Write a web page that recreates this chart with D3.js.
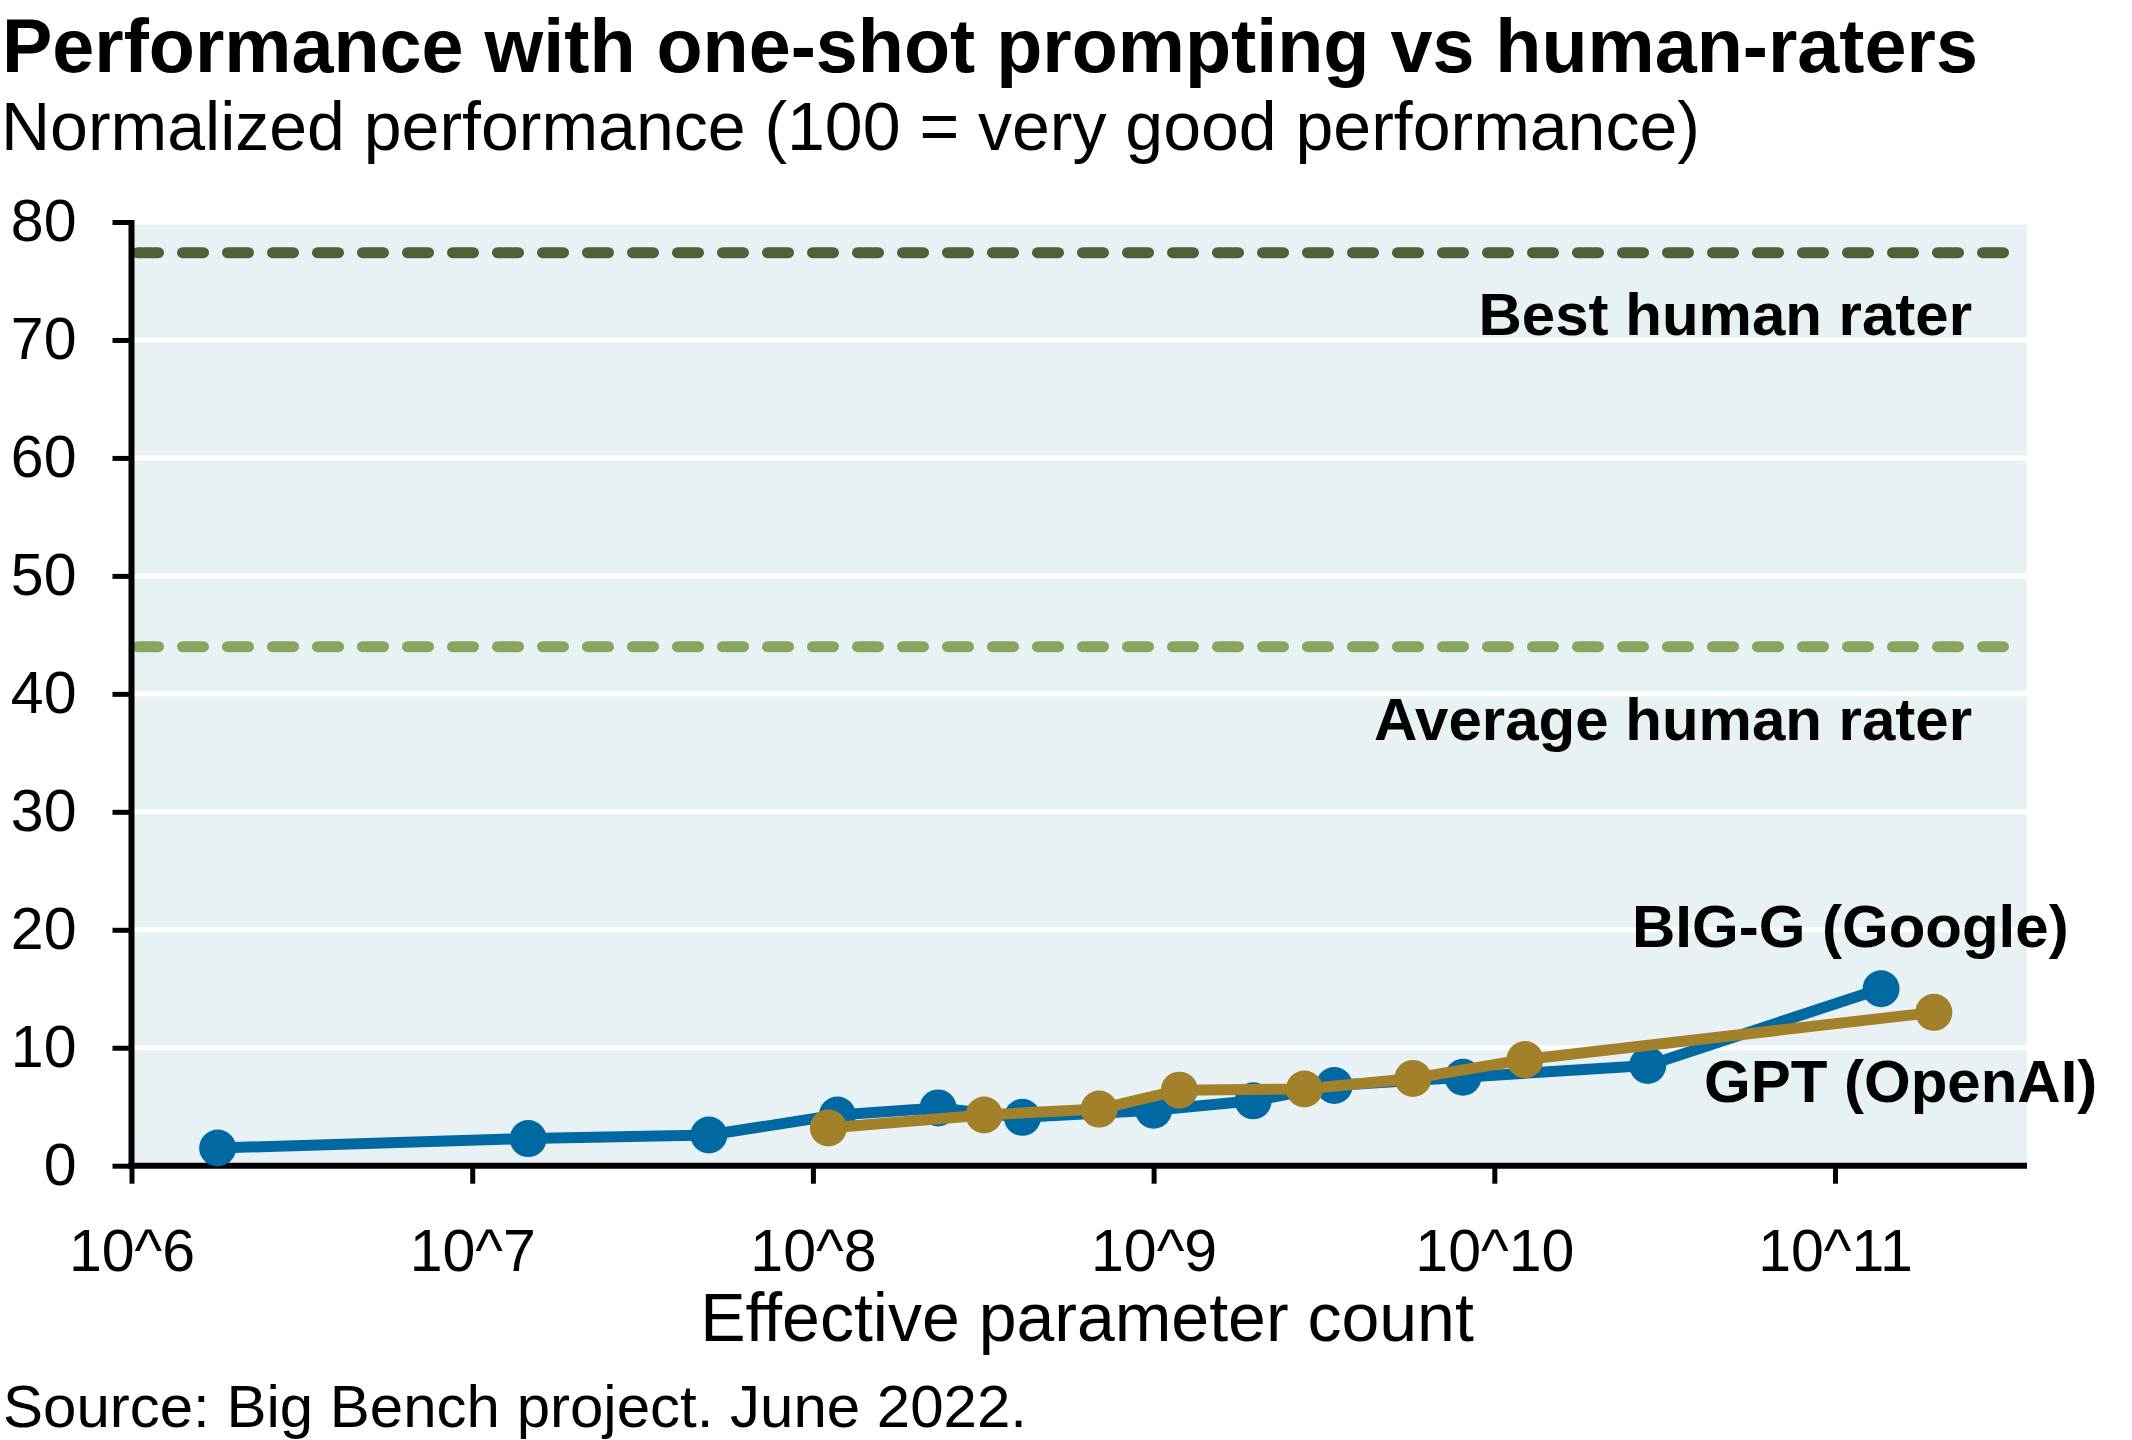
<!DOCTYPE html>
<html>
<head>
<meta charset="utf-8">
<script src="https://cdn.jsdelivr.net/npm/d3@7"></script>
<style>
  body { margin: 0; background: #ffffff; }
  svg { display: block; }
  text { font-family: "Liberation Sans", Arial, sans-serif; fill: #000000; }
</style>
</head>
<body>
<script>
// values
var bigGParams = [1.79e6, 1.46e7, 4.95e7, 1.18e8, 2.33e8, 4.12e8, 1.0e9, 1.96e9, 3.39e9, 8.09e9, 2.82e10, 1.365e11];
var bigGScores = [1.5, 2.3, 2.6, 4.3, 4.9, 4.1, 4.7, 5.5, 6.8, 7.5, 8.5, 15.0];

var gptParams = [1.11e8, 3.18e8, 6.92e8, 1.19e9, 2.77e9, 5.77e9, 1.23e10, 1.95e11];
var gptScores = [3.2, 4.3, 4.8, 6.4, 6.5, 7.4, 9.0, 13.0];

var yTicks = [0, 10, 20, 30, 40, 50, 60, 70, 80];
var xTickExponents = [6, 7, 8, 9, 10, 11];

var refNames = ["Best human rater", "Average human rater"];
var refValues = [77.4, 44.0];

var w = 2132;
var h = 1440;
// note: "top" is taken by window.top, so use plot* names
var plotLeft = 131.5, plotRight = 2027, plotTop = 222, plotBottom = 1165.7;

var svg = d3.select("body").append("svg")
    .attr("width", w)
    .attr("height", h);

var x = d3.scaleLog()
    .domain([1e6, 3.66e11])
    .range([plotLeft, plotRight]);

var y = d3.scaleLinear()
    .domain([0, 80])
    .range([plotBottom, plotTop]);

// panel + gridlines
svg.append("rect")
    .attr("x", plotLeft)
    .attr("y", plotTop)
    .attr("width", plotRight - plotLeft)
    .attr("height", plotBottom - plotTop)
    .attr("fill", "#e8f1f4");

svg.selectAll("line.grid")
    .data(yTicks.slice(1))
    .enter()
    .append("line")
    .attr("class", "grid")
    .attr("x1", plotLeft)
    .attr("x2", plotRight)
    .attr("y1", function(d) { return y(d); })
    .attr("y2", function(d) { return y(d); })
    .attr("stroke", "#ffffff")
    .attr("stroke-width", 5);

// human rater reference lines
var refColors = ["#4e6137", "#86a660"];
var refLabelY = [335, 740];

svg.selectAll("line.ref")
    .data(refValues)
    .enter()
    .append("line")
    .attr("class", "ref")
    .attr("x1", plotLeft + 6)
    .attr("x2", plotRight - 6)
    .attr("y1", function(d) { return y(d); })
    .attr("y2", function(d) { return y(d); })
    .attr("stroke", function(d, i) { return refColors[i]; })
    .attr("stroke-width", 11)
    .attr("stroke-linecap", "round")
    .attr("stroke-dasharray", "21,24");

svg.selectAll("text.ref")
    .data(refNames)
    .enter()
    .append("text")
    .attr("class", "ref")
    .attr("x", 1972)
    .attr("y", function(d, i) { return refLabelY[i]; })
    .attr("text-anchor", "end")
    .attr("font-size", 60)
    .attr("font-weight", "bold")
    .text(function(d) { return d; });

// axes
var yAxis = d3.axisLeft(y)
    .tickValues(yTicks)
    .tickSize(19)
    .tickPadding(36)
    .tickFormat(d3.format("d"));

var xAxis = d3.axisBottom(x)
    .tickValues(xTickExponents.map(function(e) { return Math.pow(10, e); }))
    .tickSize(18)
    .tickPadding(45)
    .tickFormat(function(d) { return "10^" + Math.round(Math.log10(d)); });

var gy = svg.append("g")
    .attr("transform", "translate(" + plotLeft + ",0)")
    .call(yAxis);

var gx = svg.append("g")
    .attr("transform", "translate(0," + plotBottom + ")")
    .call(xAxis);

[gx, gy].forEach(function(g) {
    g.select(".domain").remove();
    g.selectAll(".tick line")
        .attr("stroke", "#000000")
        .attr("stroke-width", 5);
    g.selectAll(".tick text")
        .attr("font-family", "\"Liberation Sans\", Arial, sans-serif")
        .attr("font-size", 59)
        .attr("fill", "#000000");
});

svg.append("line")
    .attr("x1", plotLeft)
    .attr("x2", plotLeft)
    .attr("y1", plotTop - 2)
    .attr("y2", plotBottom + 3)
    .attr("stroke", "#000000")
    .attr("stroke-width", 6);

svg.append("line")
    .attr("x1", plotLeft - 3)
    .attr("x2", plotRight)
    .attr("y1", plotBottom)
    .attr("y2", plotBottom)
    .attr("stroke", "#000000")
    .attr("stroke-width", 6);

// series
function drawSeries(params, scores, color) {
    var pts = params.map(function(p, i) { return [p, scores[i]]; });

    var line = d3.line()
        .x(function(d) { return x(d[0]); })
        .y(function(d) { return y(d[1]); });

    svg.append("path")
        .datum(pts)
        .attr("d", line)
        .attr("fill", "none")
        .attr("stroke", color)
        .attr("stroke-width", 11)
        .attr("stroke-linejoin", "round");

    svg.append("g")
        .selectAll("circle")
        .data(pts)
        .enter()
        .append("circle")
        .attr("cx", function(d) { return x(d[0]); })
        .attr("cy", function(d) { return y(d[1]); })
        .attr("r", 18.5)
        .attr("fill", color);
}

drawSeries(bigGParams, bigGScores, "#0069a2");
drawSeries(gptParams, gptScores, "#a3802a");

svg.append("text")
    .attr("x", 1632)
    .attr("y", 947)
    .attr("font-size", 60)
    .attr("font-weight", "bold")
    .text("BIG-G (Google)");

svg.append("text")
    .attr("x", 1704)
    .attr("y", 1102)
    .attr("font-size", 60)
    .attr("font-weight", "bold")
    .text("GPT (OpenAI)");

// titles
svg.append("text")
    .attr("x", 2)
    .attr("y", 72)
    .attr("font-size", 75.5)
    .attr("font-weight", "bold")
    .text("Performance with one-shot prompting vs human-raters");

svg.append("text")
    .attr("x", 1)
    .attr("y", 150)
    .attr("font-size", 68)
    .text("Normalized performance (100 = very good performance)");

svg.append("text")
    .attr("x", 1087)
    .attr("y", 1341)
    .attr("text-anchor", "middle")
    .attr("font-size", 68)
    .text("Effective parameter count");

svg.append("text")
    .attr("x", 3)
    .attr("y", 1427)
    .attr("font-size", 60)
    .text("Source: Big Bench project. June 2022.");
</script>
</body>
</html>
